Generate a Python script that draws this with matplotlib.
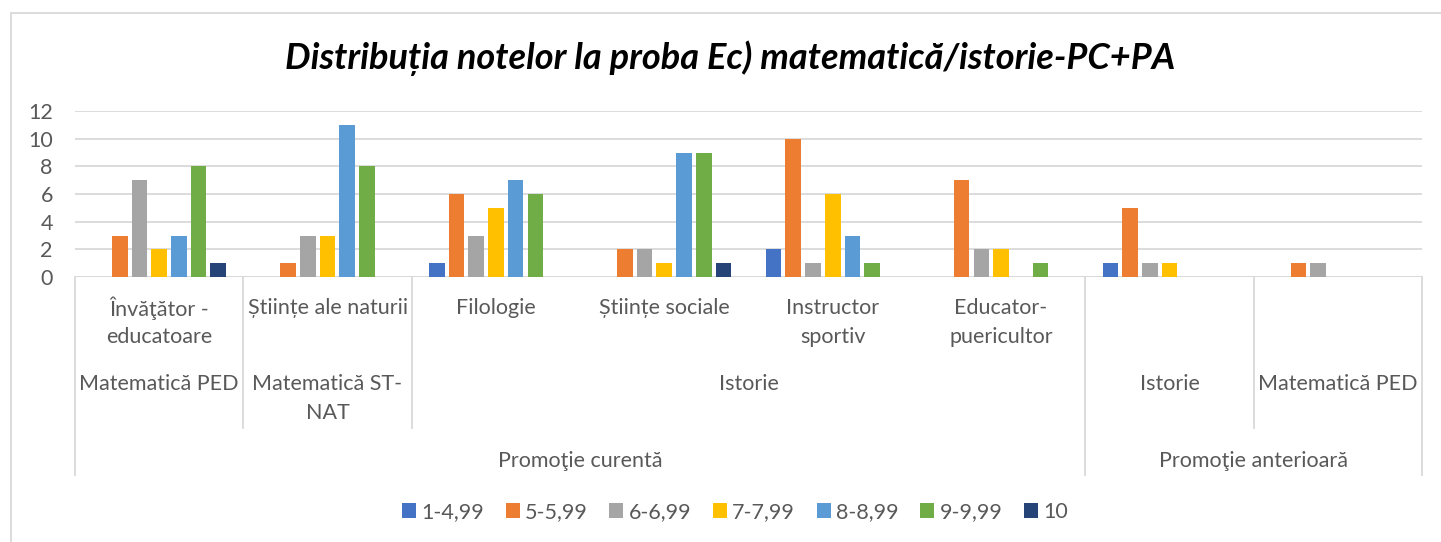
import matplotlib
matplotlib.use("Agg")
import matplotlib.pyplot as plt
import numpy as np
from matplotlib.patches import Patch, Rectangle
from matplotlib.lines import Line2D
import matplotlib.transforms as mtransforms

plt.rcParams['font.family'] = ['Lato', 'DejaVu Sans']

# ---------------- data ----------------
categories = ["Învăţător -\neducatoare", "Științe ale naturii", "Filologie", "Științe sociale",
              "Instructor\nsportiv", "Educator-\npuericultor", "", ""]
level2_labels = ["Matematică PED", "Matematică ST-\nNAT", "Istorie", "Istorie", "Matematică PED"]
level2_spans = [(0, 1), (1, 2), (2, 6), (6, 7), (7, 8)]
level3_labels = ["Promoţie curentă", "Promoţie anterioară"]
level3_spans = [(0, 6), (6, 8)]

series_names = ["1-4,99", "5-5,99", "6-6,99", "7-7,99", "8-8,99", "9-9,99", "10"]
s_1_4 = [0, 0, 1, 0, 2, 0, 1, 0]
s_5_5 = [3, 1, 6, 2, 10, 7, 5, 1]
s_6_6 = [7, 3, 3, 2, 1, 2, 1, 1]
s_7_7 = [2, 3, 5, 1, 6, 2, 1, 0]
s_8_8 = [3, 11, 7, 9, 3, 0, 0, 0]
s_9_9 = [8, 8, 6, 9, 1, 1, 0, 0]
s_10 = [1, 0, 0, 1, 0, 0, 0, 0]
series_values = [s_1_4, s_5_5, s_6_6, s_7_7, s_8_8, s_9_9, s_10]
colors = ["#4472C4", "#ED7D31", "#A5A5A5", "#FFC000", "#5B9BD5", "#70AD47", "#264478"]

yticks = [0, 2, 4, 6, 8, 10, 12]
title = "Distribuția notelor la proba Ec) matematică/istorie-PC+PA"

# ---------------- layout ----------------
W, H = 1441, 542
fig = plt.figure(figsize=(W / 100, H / 100), dpi=100)
fig.patch.set_facecolor("white")

def fy(py):
    return 1 - py / H

def fx(px):
    return px / W

x_left, x_right, y_top, y_bot = 75, 1422, 111, 277
ax = fig.add_axes([fx(x_left), fy(y_bot), fx(x_right) - fx(x_left), fy(y_top) - fy(y_bot)])

n_cat = len(categories)
x = np.arange(n_cat) + 0.5
pitch = 0.117
width = 0.093
for i, (vals, col, name) in enumerate(zip(series_values, colors, series_names)):
    ax.bar(x + (i - 3) * pitch, vals, width=width, color=col, label=name, zorder=3, linewidth=0)

ax.set_xlim(0, n_cat)
ax.set_ylim(0, 12)
ax.set_yticks(yticks)
ax.set_xticks([])
ax.grid(axis='y', color="#D9D9D9", linewidth=1.3, zorder=0)
for s in ax.spines.values():
    s.set_visible(False)
ax.axhline(0, color="#D9D9D9", linewidth=1.3, zorder=2)
ax.tick_params(axis='y', length=0, pad=16, labelsize=15.5, labelcolor="#595959")

text_color = "#595959"
fs = 15.5
trans = mtransforms.blended_transform_factory(ax.transData, fig.transFigure)
line_col = "#D9D9D9"

# level-2 boundaries (to bottom of level2 row) and level-3 boundaries (to bottom)
l2_bounds = sorted(set([a for a, b in level2_spans] + [b for a, b in level2_spans]))
l3_bounds = sorted(set([a for a, b in level3_spans] + [b for a, b in level3_spans]))
for b in l2_bounds:
    bottom = 475 if b in l3_bounds else 428
    fig.add_artist(Line2D([b, b], [fy(y_bot), fy(bottom)], transform=trans, color=line_col, lw=1.3))

# level-1 labels
for i, lab in enumerate(categories):
    for j, line in enumerate(lab.split("\n")):
        fig.text(x[i], fy(308 + 29 * j), line, transform=trans, ha='center', va='center',
                 fontsize=fs, color=text_color)

# level-2 labels
for lab, (a, b) in zip(level2_labels, level2_spans):
    for j, line in enumerate(lab.split("\n")):
        fig.text((a + b) / 2, fy(384 + 29 * j), line, transform=trans, ha='center', va='center',
                 fontsize=fs, color=text_color)

# level-3 labels
for lab, (a, b) in zip(level3_labels, level3_spans):
    fig.text((a + b) / 2, fy(461), lab, transform=trans, ha='center', va='center',
             fontsize=fs, color=text_color)

# title
fig.text(fx(730), fy(58), title, ha='center', va='center', fontsize=26,
         fontweight='bold', fontstyle='italic', color="black")

# legend
handles = [Patch(facecolor=c, edgecolor='none', label=n) for c, n in zip(colors, series_names)]
leg = fig.legend(handles=handles, loc='center', bbox_to_anchor=(fx(735), fy(512)), ncol=7,
                 frameon=False, fontsize=fs, handlelength=0.65, handleheight=0.65,
                 handletextpad=0.25, columnspacing=1.0, labelcolor=text_color)

# outer chart border (cropped at right and bottom)
fig.add_artist(Rectangle((fx(11), -0.1), 1.2, fy(13) + 0.1, transform=fig.transFigure,
                         fill=False, edgecolor="#D9D9D9", lw=1.3))

fig.savefig("out.png", dpi=100, facecolor="white")
